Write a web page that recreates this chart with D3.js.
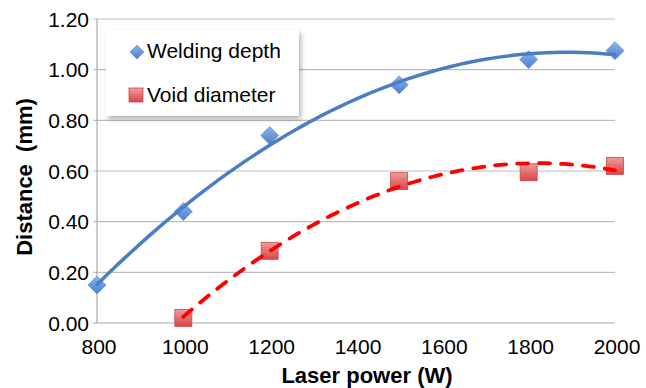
<!DOCTYPE html>
<html>
<head>
<meta charset="utf-8">
<script src="https://cdn.jsdelivr.net/npm/d3@7"></script>
<style>
  body { margin: 0; background: #fff; }
  svg text { font-family: "Liberation Sans", Arial, sans-serif; }
</style>
</head>
<body>
<div id="chart"></div>
<script>
const laserPower = [800, 1000, 1200, 1500, 1800, 2000];
const weldingDepth = [0.15, 0.44, 0.74, 0.94, 1.04, 1.075];
const voidPower = [1000, 1200, 1500, 1800, 2000];
const voidDiameter = [0.02, 0.285, 0.56, 0.595, 0.62];
const xTicks = [800, 1000, 1200, 1400, 1600, 1800, 2000];
const yTicks = [0, 0.2, 0.4, 0.6, 0.8, 1.0, 1.2];

const width = 646, height = 388;
const margin = {left: 97, top: 19, right: 31, bottom: 65};

const svg = d3.select("#chart").append("svg")
  .attr("width", width)
  .attr("height", height);

const x = d3.scaleLinear().domain([800, 2000]).range([margin.left, width - margin.right]);
const y = d3.scaleLinear().domain([0, 1.2]).range([height - margin.bottom, margin.top]);

const defs = svg.append("defs");
const blueGrad = defs.append("linearGradient").attr("id", "blueGrad")
  .attr("x1", 0).attr("y1", 0).attr("x2", 0).attr("y2", 1);
blueGrad.append("stop").attr("offset", "0%").attr("stop-color", "#8fb4ec");
blueGrad.append("stop").attr("offset", "100%").attr("stop-color", "#4a7fd0");
const redGrad = defs.append("linearGradient").attr("id", "redGrad")
  .attr("x1", 0).attr("y1", 0).attr("x2", 0).attr("y2", 1);
redGrad.append("stop").attr("offset", "0%").attr("stop-color", "#f29a9a");
redGrad.append("stop").attr("offset", "100%").attr("stop-color", "#d84545");
const shadow = defs.append("filter").attr("id", "shadow")
  .attr("x", "-20%").attr("y", "-20%").attr("width", "150%").attr("height", "160%");
shadow.append("feDropShadow").attr("dx", 2).attr("dy", 3).attr("stdDeviation", 2.5)
  .attr("flood-color", "#000").attr("flood-opacity", 0.3);

// rotated square, like the excel diamond marker
function diamond(r) {
  return `M0,${-r}L${r},0L0,${r}L${-r},0Z`;
}

// gridlines
svg.append("g")
  .selectAll("line")
  .data(yTicks)
  .enter().append("line")
  .attr("x1", x(800) - 4)
  .attr("x2", x(2000))
  .attr("y1", d => y(d))
  .attr("y2", d => y(d))
  .attr("stroke", d => d === 0 ? "#a8a8a8" : "#bdbdbd")
  .attr("stroke-width", 1.2);

svg.append("line")
  .attr("x1", x(800)).attr("x2", x(800))
  .attr("y1", y(1.2)).attr("y2", y(0))
  .attr("stroke", "#a8a8a8").attr("stroke-width", 1.2);

// tick labels
svg.append("g")
  .selectAll("text")
  .data(yTicks)
  .enter().append("text")
  .attr("x", x(800) - 8)
  .attr("y", d => y(d) + 7.5)
  .attr("text-anchor", "end")
  .style("font-size", "21px")
  .text(d => d3.format(".2f")(d));

svg.append("g")
  .selectAll("text")
  .data(xTicks)
  .enter().append("text")
  .attr("x", d => x(d) + 2)
  .attr("y", y(0) + 30.5)
  .attr("text-anchor", "middle")
  .style("font-size", "21px")
  .text(d => d);

svg.append("text")
  .attr("x", 367)
  .attr("y", 383)
  .attr("text-anchor", "middle")
  .style("font-size", "22px")
  .style("font-weight", "bold")
  .text("Laser power (W)");

svg.append("text")
  .attr("transform", "translate(32, 177) rotate(-90)")
  .attr("text-anchor", "middle")
  .style("font-size", "22px")
  .style("font-weight", "bold")
  .style("white-space", "pre")
  .text("Distance  (mm)");

// quadratic least squares trend
function quadFit(xs, ys) {
  const s = [0, 0, 0, 0, 0], t = [0, 0, 0];
  const xm = d3.mean(xs);
  xs.forEach((xv, i) => {
    const u = (xv - xm) / 1000;
    for (let k = 0; k < 5; k++) s[k] += Math.pow(u, k);
    for (let k = 0; k < 3; k++) t[k] += ys[i] * Math.pow(u, k);
  });
  const A = [[s[0], s[1], s[2], t[0]], [s[1], s[2], s[3], t[1]], [s[2], s[3], s[4], t[2]]];
  for (let i = 0; i < 3; i++) {
    for (let j = i + 1; j < 3; j++) {
      const f = A[j][i] / A[i][i];
      for (let k = i; k < 4; k++) A[j][k] -= f * A[i][k];
    }
  }
  const c = [0, 0, 0];
  for (let i = 2; i >= 0; i--) {
    let v = A[i][3];
    for (let k = i + 1; k < 3; k++) v -= A[i][k] * c[k];
    c[i] = v / A[i][i];
  }
  return xv => { const u = (xv - xm) / 1000; return c[0] + c[1] * u + c[2] * u * u; };
}

const line = d3.line().x(d => x(d[0])).y(d => y(d[1])).curve(d3.curveBasis);

const weldFit = quadFit(laserPower, weldingDepth);
const weldTrend = d3.range(800, 2001, 20).map(p => [p, weldFit(p)]);
const voidFit = quadFit(voidPower, voidDiameter);
const voidTrend = d3.range(1000, 2001, 20).map(p => [p, voidFit(p)]);

// markers
svg.append("g")
  .selectAll("path")
  .data(laserPower.map((p, i) => [p, weldingDepth[i]]))
  .enter().append("path")
  .attr("d", diamond(9))
  .attr("transform", d => `translate(${x(d[0])},${y(d[1])})`)
  .attr("fill", "url(#blueGrad)")
  .attr("stroke", "#6b95d6")
  .attr("stroke-width", 0.8);

svg.append("g")
  .selectAll("rect")
  .data(voidPower.map((p, i) => [p, voidDiameter[i]]))
  .enter().append("rect")
  .attr("x", d => x(d[0]) - 8.5)
  .attr("y", d => y(d[1]) - 8.5)
  .attr("width", 17)
  .attr("height", 17)
  .attr("fill", "url(#redGrad)")
  .attr("stroke", "#c64a4a")
  .attr("stroke-width", 0.8);

svg.append("path")
  .attr("d", line(weldTrend))
  .attr("fill", "none")
  .attr("stroke", "#4a7ec4")
  .attr("stroke-width", 3.5)
  .attr("stroke-linecap", "round");

svg.append("path")
  .attr("d", line(voidTrend))
  .attr("fill", "none")
  .attr("stroke", "#ff0000")
  .attr("stroke-width", 3.8)
  .attr("stroke-dasharray", "11,11")
  .attr("stroke-linecap", "round");

// legend
const legend = svg.append("g");
legend.append("rect")
  .attr("x", 106).attr("y", 30)
  .attr("width", 193).attr("height", 86)
  .attr("fill", "#fff")
  .attr("filter", "url(#shadow)");
legend.append("path")
  .attr("d", diamond(7))
  .attr("transform", "translate(137,52)")
  .attr("fill", "url(#blueGrad)")
  .attr("stroke", "#6b95d6")
  .attr("stroke-width", 0.8);
legend.append("rect")
  .attr("x", 129).attr("y", 88).attr("width", 14).attr("height", 14)
  .attr("fill", "url(#redGrad)")
  .attr("stroke", "#c64a4a")
  .attr("stroke-width", 0.8);
legend.append("text")
  .attr("x", 147).attr("y", 57.5)
  .style("font-size", "21px")
  .text("Welding depth");
legend.append("text")
  .attr("x", 147).attr("y", 102)
  .style("font-size", "21px")
  .text("Void diameter");
</script>
</body>
</html>
